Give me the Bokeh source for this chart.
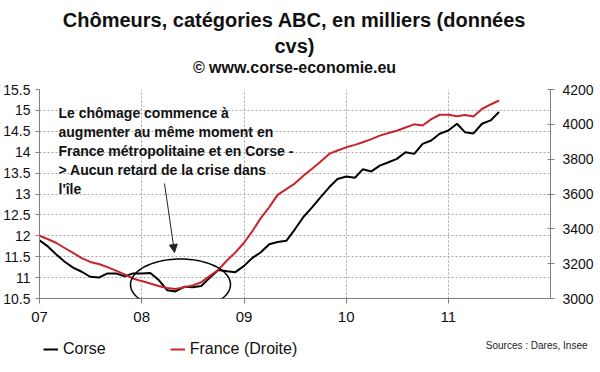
import numpy as np
import pandas as pd
from datetime import datetime
from bokeh.plotting import figure
from bokeh.layouts import column
from bokeh.models import (Range1d, LinearAxis, FixedTicker, NumeralTickFormatter,
                          Label, Arrow, NormalHead, PolyAnnotation, Legend, LegendItem)
from bokeh.embed import file_html
from bokeh.resources import INLINE

# ---------------- data ----------------
MONTHS = pd.date_range("2007-01-01", periods=55, freq="MS")

CORSE = [11.89, 11.74, 11.56, 11.38, 11.24, 11.14, 11.02, 11.00, 11.10, 11.10,
         11.03, 11.10, 11.10, 11.11, 10.95, 10.70, 10.67, 10.78, 10.77, 10.80,
         11.00, 11.18, 11.15, 11.13, 11.28, 11.48, 11.60, 11.80, 11.85, 11.88,
         12.15, 12.45, 12.68, 12.92, 13.16, 13.36, 13.42, 13.39, 13.59, 13.54,
         13.68, 13.76, 13.84, 14.00, 13.96, 14.20, 14.28, 14.44, 14.52, 14.68,
         14.48, 14.45, 14.68, 14.76, 14.96]

FRANCE = [3360, 3340, 3320, 3290, 3262, 3232, 3210, 3198, 3180, 3160,
          3138, 3115, 3100, 3086, 3072, 3060, 3055, 3065, 3075, 3093,
          3130, 3165, 3218, 3265, 3320, 3390, 3460, 3525, 3595, 3628,
          3660, 3705, 3745, 3785, 3830, 3850, 3868, 3882, 3897, 3915,
          3935, 3950, 3963, 3982, 4000, 3993, 4030, 4055, 4055, 4047,
          4054, 4045, 4088, 4114, 4137]

YEAR_TICKS = ["2007-01-01", "2008-01-01", "2009-01-01", "2010-01-01", "2011-01-01"]
YEAR_LABELS = ["07", "08", "09", "10", "11"]
LEFT_TICKS = [10.5, 11, 11.5, 12, 12.5, 13, 13.5, 14, 14.5, 15, 15.5]
RIGHT_TICKS = [3000, 3200, 3400, 3600, 3800, 4000, 4200]

TITLE_LINES = ["Chômeurs, catégories ABC, en milliers (données", "cvs)",
               "© www.corse-economie.eu"]
NOTE_LINES = ["Le chômage commence à",
              "augmenter au même moment en",
              "France métropolitaine et en Corse -",
              "> Aucun retard de la crise dans",
              "l'île"]
SOURCE = "Sources : Dares, Insee"
SERIES_NAMES = ["Corse", "France (Droite)"]

# ---------------- styling ----------------
FONT = "Liberation Sans"
RED = "#c8242b"
GRID = "#a8a8a8"
AXIS = "#808080"
TXT = "#111111"
W = 600
TOP_H, MAIN_H, BOT_H = 81, 249, 42


def bare(width, height, y_flip=False):
    yr = Range1d(height, 0) if y_flip else Range1d(0, height)
    fig = figure(width=width, height=height, x_range=Range1d(0, width), y_range=yr,
                 x_axis_location=None, y_axis_location=None,
                 output_backend="svg", toolbar_location=None,
                 min_border=0, frame_align=False)
    fig.grid.visible = False
    fig.outline_line_color = None
    fig.title.visible = False
    return fig


def ms(s):
    return pd.Timestamp(s).value // 10**6


# ---------- title strip ----------
top = bare(W, TOP_H, y_flip=True)
for txt, y, size in zip(TITLE_LINES, [19, 45, 67], ["20px", "20px", "16px"]):
    top.add_layout(Label(x=294, y=y, text=txt, text_align="center", text_baseline="middle",
                         text_font=FONT, text_font_style="bold", text_font_size=size,
                         text_color=TXT))

# ---------- main chart ----------
year_ms = [ms(s) for s in YEAR_TICKS]

p = figure(width=W, height=MAIN_H, x_axis_type="datetime",
           x_range=Range1d(datetime(2007, 1, 1), datetime(2012, 1, 1)),
           y_range=Range1d(10.5, 15.5),
           output_backend="svg", toolbar_location=None,
           min_border_left=39, min_border_right=50,
           min_border_top=8, min_border_bottom=32)
p.title.visible = False
p.outline_line_color = None
p.extra_y_ranges = {"fr": Range1d(3000, 4200)}

xax = p.xaxis[0]
xax.ticker = FixedTicker(ticks=year_ms)
xax.major_label_overrides = {t: lab for t, lab in zip(year_ms, YEAR_LABELS)}
xax.major_label_text_font = FONT
xax.major_label_text_font_size = "15px"
xax.major_label_text_color = TXT
xax.major_tick_out = 5
xax.major_tick_in = 0
xax.minor_tick_out = 0
xax.minor_tick_in = 0
xax.major_label_standoff = 8
xax.axis_line_color = AXIS
xax.major_tick_line_color = AXIS

yax = p.yaxis[0]
yax.ticker = FixedTicker(ticks=LEFT_TICKS)
yax.formatter = NumeralTickFormatter(format="0.[0]")
yax.major_label_text_font = FONT
yax.major_label_text_font_size = "14px"
yax.major_label_text_color = TXT
yax.major_tick_out = 4
yax.major_tick_in = 0
yax.minor_tick_out = 0
yax.minor_tick_in = 0
yax.major_label_standoff = 5
yax.axis_line_color = AXIS
yax.major_tick_line_color = AXIS

rax = LinearAxis(y_range_name="fr", ticker=FixedTicker(ticks=RIGHT_TICKS))
rax.major_label_text_font = FONT
rax.major_label_text_font_size = "14px"
rax.major_label_text_color = TXT
rax.major_tick_out = 4
rax.major_tick_in = 3
rax.minor_tick_out = 0
rax.minor_tick_in = 0
rax.major_label_standoff = 8
rax.axis_line_color = AXIS
rax.major_tick_line_color = AXIS
p.add_layout(rax, "right")

p.xgrid.ticker = FixedTicker(ticks=year_ms)
p.xgrid.grid_line_color = GRID
p.xgrid.grid_line_dash = "2 2"
p.ygrid.grid_line_color = GRID
p.ygrid.grid_line_dash = "2 2"

p.line(MONTHS, CORSE, line_color="black", line_width=2)
p.line(MONTHS, FRANCE, y_range_name="fr", line_color=RED, line_width=2)

for i, line in enumerate(NOTE_LINES):
    p.add_layout(Label(x=19, y=185.5 - 19 * i, x_units="screen", y_units="screen",
                       text=line, text_align="left", text_baseline="middle",
                       text_font=FONT, text_font_style="bold", text_font_size="14px",
                       text_color=TXT))

p.add_layout(Arrow(x_start=125, y_start=115, x_end=135, y_end=46,
                   start_units="screen", end_units="screen",
                   line_color="#222222", line_width=1,
                   end=NormalHead(size=8, fill_color="#222222", line_color="#222222")))

t = np.linspace(0, 2 * np.pi, 73)
p.add_layout(PolyAnnotation(xs=list(141 + 50 * np.cos(t)), ys=list(14 + 25.5 * np.sin(t)),
                            xs_units="screen", ys_units="screen",
                            fill_alpha=0, line_color="black", line_alpha=1, line_width=1.5))

# ---------- legend / source strip ----------
bot = bare(W, BOT_H)
# the series again, lying outside this strip's range: only their legend swatches show
k1 = bot.line([ms(m) for m in MONTHS], CORSE, line_color="black", line_width=2)
k2 = bot.line([ms(m) for m in MONTHS], FRANCE, line_color=RED, line_width=2)
legend = Legend(items=[LegendItem(label=SERIES_NAMES[0], renderers=[k1]),
                       LegendItem(label=SERIES_NAMES[1], renderers=[k2])],
                orientation="horizontal", location=(43, 13),
                border_line_color=None, background_fill_alpha=0,
                padding=0, margin=0, spacing=64, glyph_width=15, glyph_height=20,
                label_standoff=5, label_height=20,
                label_text_font=FONT, label_text_font_size="16px",
                label_text_color=TXT)
bot.add_layout(legend)
bot.add_layout(Label(x=587, y=27, text=SOURCE, text_align="right", text_baseline="middle",
                     text_font=FONT, text_font_size="10px", text_color="#222222"))

layout = column(top, p, bot, spacing=0)
open("out.html", "w").write(file_html(layout, INLINE))
